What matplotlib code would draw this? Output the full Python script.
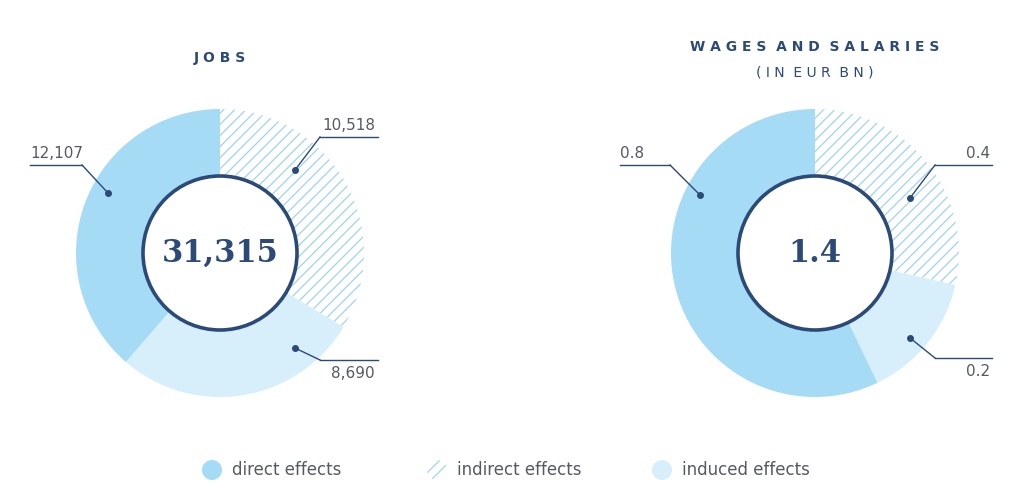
import matplotlib.pyplot as plt
from matplotlib.patches import Circle

# data: order = indirect, induced, direct (clockwise from top)
jobs_values = [10518, 8690, 12107]
jobs_labels = ['10,518', '8,690', '12,107']
jobs_total = '31,315'
wages_values = [0.4, 0.2, 0.8]
wages_labels = ['0.4', '0.2', '0.8']
wages_total = '1.4'
legend_names = ['direct effects', 'indirect effects', 'induced effects']

NAVY = '#2b4a78'
DIRECT = '#a6dbf6'
INDUCED = '#d7eefb'
HATCH = '#9fd3f0'
GREY = '#555a63'

plt.rcParams['hatch.linewidth'] = 0.9

fig = plt.figure(figsize=(10.24, 5), dpi=100)
ax = fig.add_axes([0, 0, 1, 1])


def donut(cx, cy, values, labels, total, title, subtitle, anchors):
    wedges, _ = ax.pie(values, center=(cx, cy), radius=144, startangle=90,
                       counterclock=False, frame=True,
                       colors=['white', INDUCED, DIRECT],
                       wedgeprops=dict(width=66, linewidth=0))
    wedges[0].set_edgecolor(HATCH)
    wedges[0].set_hatch('///')
    ax.add_patch(Circle((cx, cy), 77, facecolor='white', edgecolor=NAVY, lw=2.6, zorder=5))
    ax.text(cx, cy, total, ha='center', va='center', fontsize=22, color=NAVY,
            family='DejaVu Serif', fontweight='bold', zorder=6)
    ax.text(cx, 500 - 58 if not subtitle else 500 - 47, title, ha='center', va='center',
            fontsize=10, fontweight='bold', color=NAVY)
    if subtitle:
        ax.text(cx, 500 - 72, subtitle, ha='center', va='center', fontsize=10, color=NAVY)
    for lab, (dx, dy, x0, x1, ly, tx, ha, above) in zip(labels, anchors):
        ax.plot([dx, x0 if tx > cx else x1], [500 - dy, 500 - ly], color=NAVY, lw=1)
        ax.plot([x0, x1], [500 - ly, 500 - ly], color=NAVY, lw=1)
        ax.plot(dx, 500 - dy, 'o', color=NAVY, ms=4, zorder=7)
        ty = 500 - ly + 12 if above else 500 - ly - 13
        ax.text(tx, ty, lab, ha=ha, va='center', fontsize=11, color=GREY)


donut(220, 247, jobs_values, jobs_labels, jobs_total, 'J O B S', None,
      [(295, 170, 320, 378, 137, 375, 'right', True),
       (295, 348, 320, 378, 360, 375, 'right', False),
       (108, 193, 30, 82, 165, 30, 'left', True)])
donut(815, 247, wages_values, wages_labels, wages_total,
      'W A G E S  A N D  S A L A R I E S', '( I N  E U R  B N )',
      [(910, 198, 935, 992, 165, 990, 'right', True),
       (910, 338, 935, 992, 358, 990, 'right', False),
       (700, 195, 620, 670, 165, 620, 'left', True)])

# legend
for x, name, fc in zip([212, 437, 662], legend_names, [DIRECT, 'white', INDUCED]):
    c = Circle((x, 500 - 470), 10, facecolor=fc, edgecolor=HATCH if fc == 'white' else 'none', lw=0)
    if fc == 'white':
        c.set_hatch('///')
    ax.add_patch(c)
    ax.text(x + 20, 500 - 470, name, ha='left', va='center', fontsize=12, color=GREY)

ax.set_xlim(0, 1024)
ax.set_ylim(0, 500)
ax.set_aspect('equal')
ax.axis('off')
fig.savefig('out.png', dpi=100)
